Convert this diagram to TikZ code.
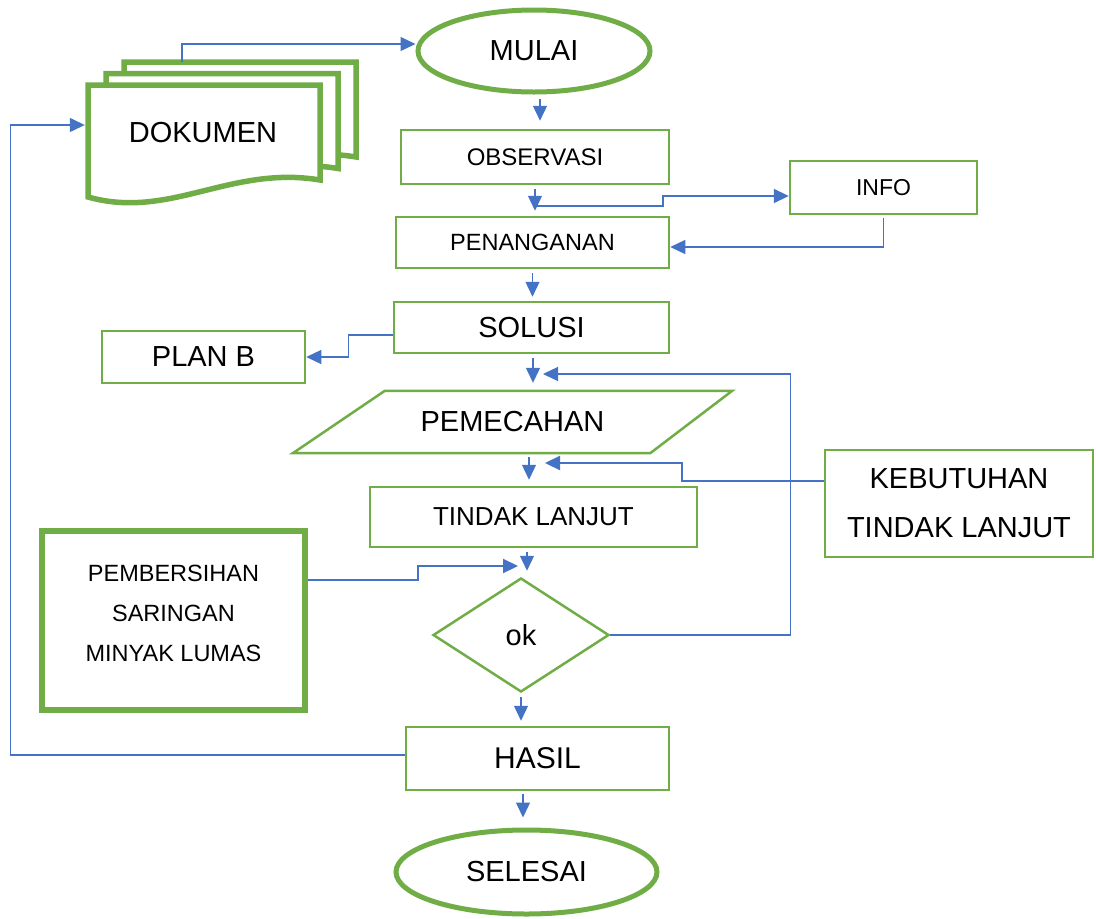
\documentclass[tikz,border=0pt]{standalone}
\usepackage{fontspec}
\setmainfont{Liberation Sans}
\usetikzlibrary{shapes.geometric,arrows.meta,calc}
\definecolor{boxgreen}{HTML}{70AD47}
\definecolor{linkblue}{HTML}{4472C4}
\newcommand{\fsbig}{\fontsize{29}{35}\selectfont}
\newcommand{\fsmid}{\fontsize{24}{29}\selectfont}
\begin{document}
\begin{tikzpicture}[x=1pt,y=-1pt,
    box/.style={rectangle,draw=boxgreen,line width=2.5pt,fill=white,align=center,inner sep=0pt},
    terminal/.style={ellipse,draw=boxgreen,line width=5pt,fill=white,inner sep=0pt},
    link/.style={draw=linkblue,line width=1.3pt,-{Triangle[length=15pt,width=14pt]}},
    boldlink/.style={link,line width=2.2pt}]
        \useasboundingbox (0,0) rectangle (1096,919);

        % stacked documents
        \foreach \dx/\dy in {36/-23,18/-11.5,0/0} {
            \draw[boxgreen,line width=5.5pt,fill=white,shift={(\dx,\dy)}]
                (88,85) -- (320,85) -- (320,180) .. controls (230,165) and (170,220) .. (88,197) -- cycle;
        }
        \coordinate (dokback) at (182,62);
        \node[inner sep=0pt,minimum width=236pt,minimum height=90pt] (dokumen) at (203,133) {\fsbig DOKUMEN};

        \node[terminal,minimum width=232pt,minimum height=82pt] (mulai) at (534,51) {\fsbig MULAI};
        \node[box,minimum width=268pt,minimum height=54pt] (observasi) at (535,157) {\fsmid OBSERVASI};
        \node[box,minimum width=187pt,minimum height=53pt] (info) at (883.5,187.5) {\fontsize{23}{28}\selectfont INFO};
        \node[box,minimum width=273pt,minimum height=51pt] (penanganan) at (532.5,242.5) {\fontsize{23.5}{28}\selectfont PENANGANAN};
        \node[box,minimum width=275pt,minimum height=51pt] (solusi) at (531.5,327.5) {\fsbig SOLUSI};
        \node[box,minimum width=203pt,minimum height=52pt] (planb) at (203.5,357) {\fsbig PLAN B};

        \node[inner sep=0pt,minimum width=439pt,minimum height=62pt] (pemecahan) at (512.5,422) {};
        \draw[boxgreen,line width=2.5pt,line join=miter]
            ($(pemecahan.north west)+(92,0)$) -- (pemecahan.north east)
            -- ($(pemecahan.south east)-(82,0)$) -- (pemecahan.south west) -- cycle;
        \node at (pemecahan) {\fsbig PEMECAHAN};

        \node[box,minimum width=327pt,minimum height=60pt] (tindak) at (533.5,517) {\fontsize{26}{31}\selectfont TINDAK LANJUT};
        \node[box,minimum width=268pt,minimum height=107pt,font=\fontsize{29}{49}\selectfont] (kebutuhan) at (959,503.5)
            {KEBUTUHAN\\TINDAK LANJUT};
        \node[box,line width=6pt,minimum width=263pt,minimum height=179pt] (bersih) at (173.5,620.5) {};
        \node[align=center,font=\fontsize{23.5}{40}\selectfont] (bersihteks) at (173.5,613)
            {PEMBERSIHAN\\SARINGAN\\MINYAK LUMAS};
        \node[diamond,draw=boxgreen,line width=2.5pt,fill=white,inner sep=0pt,
              minimum width=176pt,minimum height=114pt] (ok) at (521,635) {\fsbig ok};
        \node[box,minimum width=263pt,minimum height=63pt] (hasil) at (537.5,758.5) {\fontsize{30}{36}\selectfont HASIL};
        \node[terminal,minimum width=261pt,minimum height=84pt] (selesai) at (526.5,872) {\fsbig SELESAI};

        \coordinate (obsmid) at ($(observasi.south)+(0,21)$);
        \coordinate (loopin) at (543,374);
        \coordinate (kebin) at (545,463);
        \coordinate (bersihin) at (518,566);

        % connectors
        \draw[link] (dokback) |- ([yshift=7pt]mulai.west);
        \draw[link,shorten <=4pt,shorten >=8pt] ([xshift=6pt]mulai.south) -- ([xshift=6pt]mulai.south |- observasi.north);
        \draw[link,shorten <=4pt,shorten >=5pt] (observasi.south) -- (observasi.south |- penanganan.north);
        \draw[boldlink] (obsmid) -- ++(128,0) |- ([yshift=-8.5pt]info.west);
        \draw[link,shorten <=3pt] (info.south) |- ([yshift=-4.5pt]penanganan.east);
        \draw[link,shorten <=4pt,shorten >=4pt] (penanganan.south) -- (penanganan.south |- solusi.north);
        \draw[link] ([yshift=-7.5pt]solusi.west) -- ++(-44,0) |- (planb.east);
        \draw[link,shorten <=4pt,shorten >=8pt] ([xshift=1.5pt]solusi.south) -- ([xshift=1.5pt]solusi.south |- pemecahan.north);
        \draw[link] (ok.east) -- ++(180,0) |- (loopin);
        \draw[link,shorten <=4pt,shorten >=6pt] ([xshift=16.5pt]pemecahan.south) -- ([xshift=16.5pt]pemecahan.south |- tindak.north);
        \draw[boldlink] ([yshift=22.5pt]kebutuhan.west) -- ++(-142,0) |- (kebin);
        \draw[link,shorten <=4pt,shorten >=6pt] ([xshift=-6.5pt]tindak.south) -- ([xshift=-6.5pt]tindak.south |- ok.north);
        \draw[boldlink] ([yshift=40.5pt]bersih.east) -- ++(110,0) |- (bersihin);
        \draw[link,shorten <=4pt,shorten >=5pt] (ok.south) -- (ok.south |- hasil.north);
        \draw[link,shorten <=3pt,shorten >=10pt] ([xshift=-14.5pt]hasil.south) -- ([xshift=-14.5pt]hasil.south |- selesai.north);
        \draw[link] ([yshift=3.5pt]hasil.west) -- ++(-394,0) |- ([yshift=8pt]dokumen.west);
\end{tikzpicture}
\end{document}
